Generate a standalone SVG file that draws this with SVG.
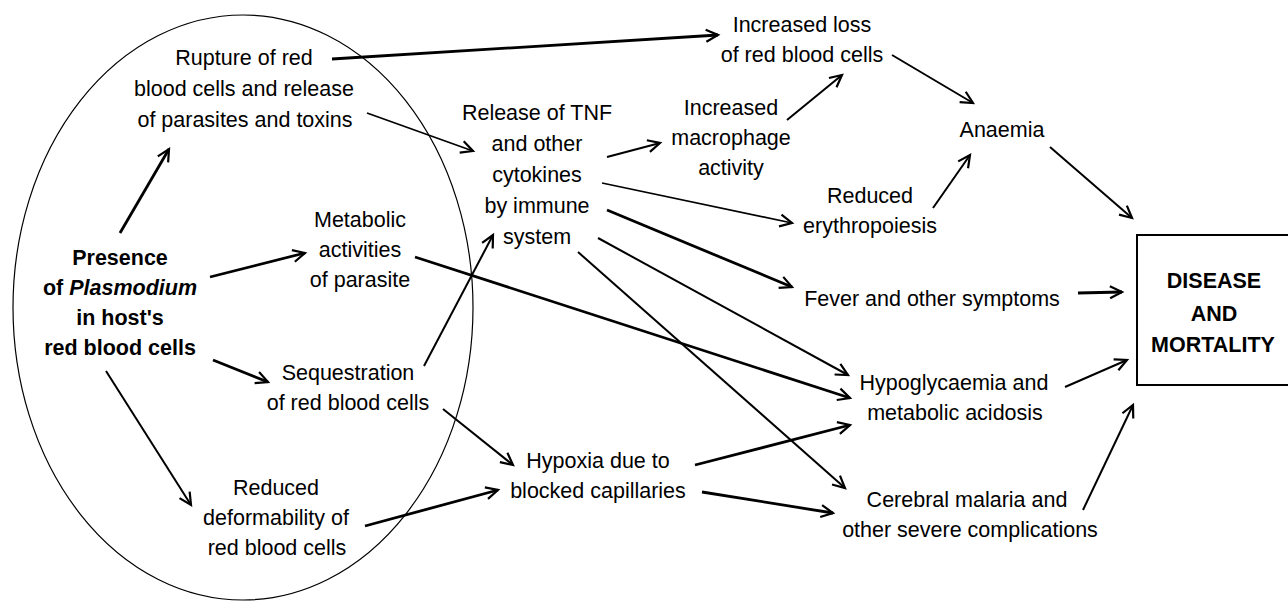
<svg xmlns="http://www.w3.org/2000/svg" width="1288" height="602" viewBox="0 0 1288 602">
<defs>
<marker id="ah" viewBox="-14 -8 16 16" markerWidth="16" markerHeight="16" refX="0" refY="0" orient="auto" markerUnits="userSpaceOnUse" overflow="visible">
<path d="M-12,-6 L0,0 L-12,6" fill="none" stroke="#000" stroke-width="2.2" stroke-linejoin="miter"/>
</marker>
</defs>
<style>
text{font-family:"Liberation Sans",Arial,sans-serif;font-size:21.5px;fill:#000;text-anchor:middle}
.b{font-weight:bold}
.c line{stroke:#000;stroke-width:2;marker-end:url(#ah)}
.c .k{stroke-width:2.8}
.c .t{stroke-width:1.7}
</style>
<rect width="1288" height="602" fill="#fff"/>
<ellipse id="host-cell" cx="243" cy="307.5" rx="230" ry="292.5" fill="none" stroke="#000" stroke-width="1.2"/>
<g id="presence"><text class="b" x="120" y="265">Presence</text><text class="b" x="120" y="295">of <tspan font-style="italic">Plasmodium</tspan></text><text class="b" x="120" y="325">in host's</text><text class="b" x="120" y="355">red blood cells</text></g>
<g id="rupture"><text x="244" y="65">Rupture of red</text><text x="244" y="96">blood cells and release</text><text x="245" y="127">of parasites and toxins</text></g>
<g id="metabolic"><text x="360" y="227">Metabolic</text><text x="360" y="257">activities</text><text x="360" y="287">of parasite</text></g>
<g id="sequestration"><text x="348" y="380">Sequestration</text><text x="348" y="410">of red blood cells</text></g>
<g id="deformability"><text x="276" y="495">Reduced</text><text x="276" y="525">deformability of</text><text x="277" y="555">red blood cells</text></g>
<g id="tnf"><text x="537" y="120">Release of TNF</text><text x="537" y="151">and other</text><text x="537" y="182">cytokines</text><text x="537" y="213">by immune</text><text x="537" y="244">system</text></g>
<g id="hypoxia"><text x="598" y="468">Hypoxia due to</text><text x="598" y="498">blocked capillaries</text></g>
<g id="loss"><text x="802" y="32">Increased loss</text><text x="802" y="62">of red blood cells</text></g>
<g id="macrophage"><text x="731" y="115">Increased</text><text x="731" y="145">macrophage</text><text x="731" y="175">activity</text></g>
<g id="erythropoiesis"><text x="870" y="203">Reduced</text><text x="870" y="233">erythropoiesis</text></g>
<g id="anaemia"><text x="1002" y="137">Anaemia</text></g>
<g id="fever"><text x="932" y="306">Fever and other symptoms</text></g>
<g id="hypoglycaemia"><text x="954" y="390">Hypoglycaemia and</text><text x="955" y="420">metabolic acidosis</text></g>
<g id="cerebral"><text x="967" y="507">Cerebral malaria and</text><text x="970" y="537">other severe complications</text></g>
<g id="disease"><rect x="1137" y="235" width="170" height="150" fill="none" stroke="#000" stroke-width="2"/><text class="b" x="1214" y="288">DISEASE</text><text class="b" x="1214" y="321">AND</text><text class="b" x="1213" y="352">MORTALITY</text></g>
<g id="connectors" class="c">
<line class="k" x1="120" y1="233" x2="169" y2="149"/>
<line class="k" x1="210" y1="277" x2="305" y2="253"/>
<line class="k" x1="213" y1="360" x2="268" y2="382"/>
<line x1="106" y1="371" x2="191" y2="505"/>
<line class="k" x1="332" y1="59" x2="718" y2="35"/>
<line class="t" x1="367" y1="113" x2="473" y2="151"/>
<line class="k" x1="415" y1="257" x2="850" y2="398"/>
<line x1="424" y1="366" x2="493" y2="235"/>
<line x1="443" y1="409" x2="513" y2="465"/>
<line class="k" x1="365" y1="526" x2="498" y2="490"/>
<line x1="607" y1="157" x2="660" y2="143"/>
<line class="t" x1="602" y1="183" x2="792" y2="223"/>
<line class="k" x1="607" y1="210" x2="792" y2="287"/>
<line x1="598" y1="238" x2="848" y2="375"/>
<line x1="578" y1="252" x2="845" y2="488"/>
<line x1="787" y1="120" x2="842" y2="75"/>
<line x1="892" y1="55" x2="973" y2="103"/>
<line x1="933" y1="208" x2="970" y2="155"/>
<line x1="1050" y1="147" x2="1132" y2="218"/>
<line class="k" x1="1078" y1="293" x2="1122" y2="292"/>
<line x1="1065" y1="387" x2="1127" y2="360"/>
<line x1="1083" y1="510" x2="1133" y2="405"/>
<line class="k" x1="695" y1="465" x2="850" y2="425"/>
<line class="k" x1="702" y1="492" x2="833" y2="513"/>
</g>
</svg>
